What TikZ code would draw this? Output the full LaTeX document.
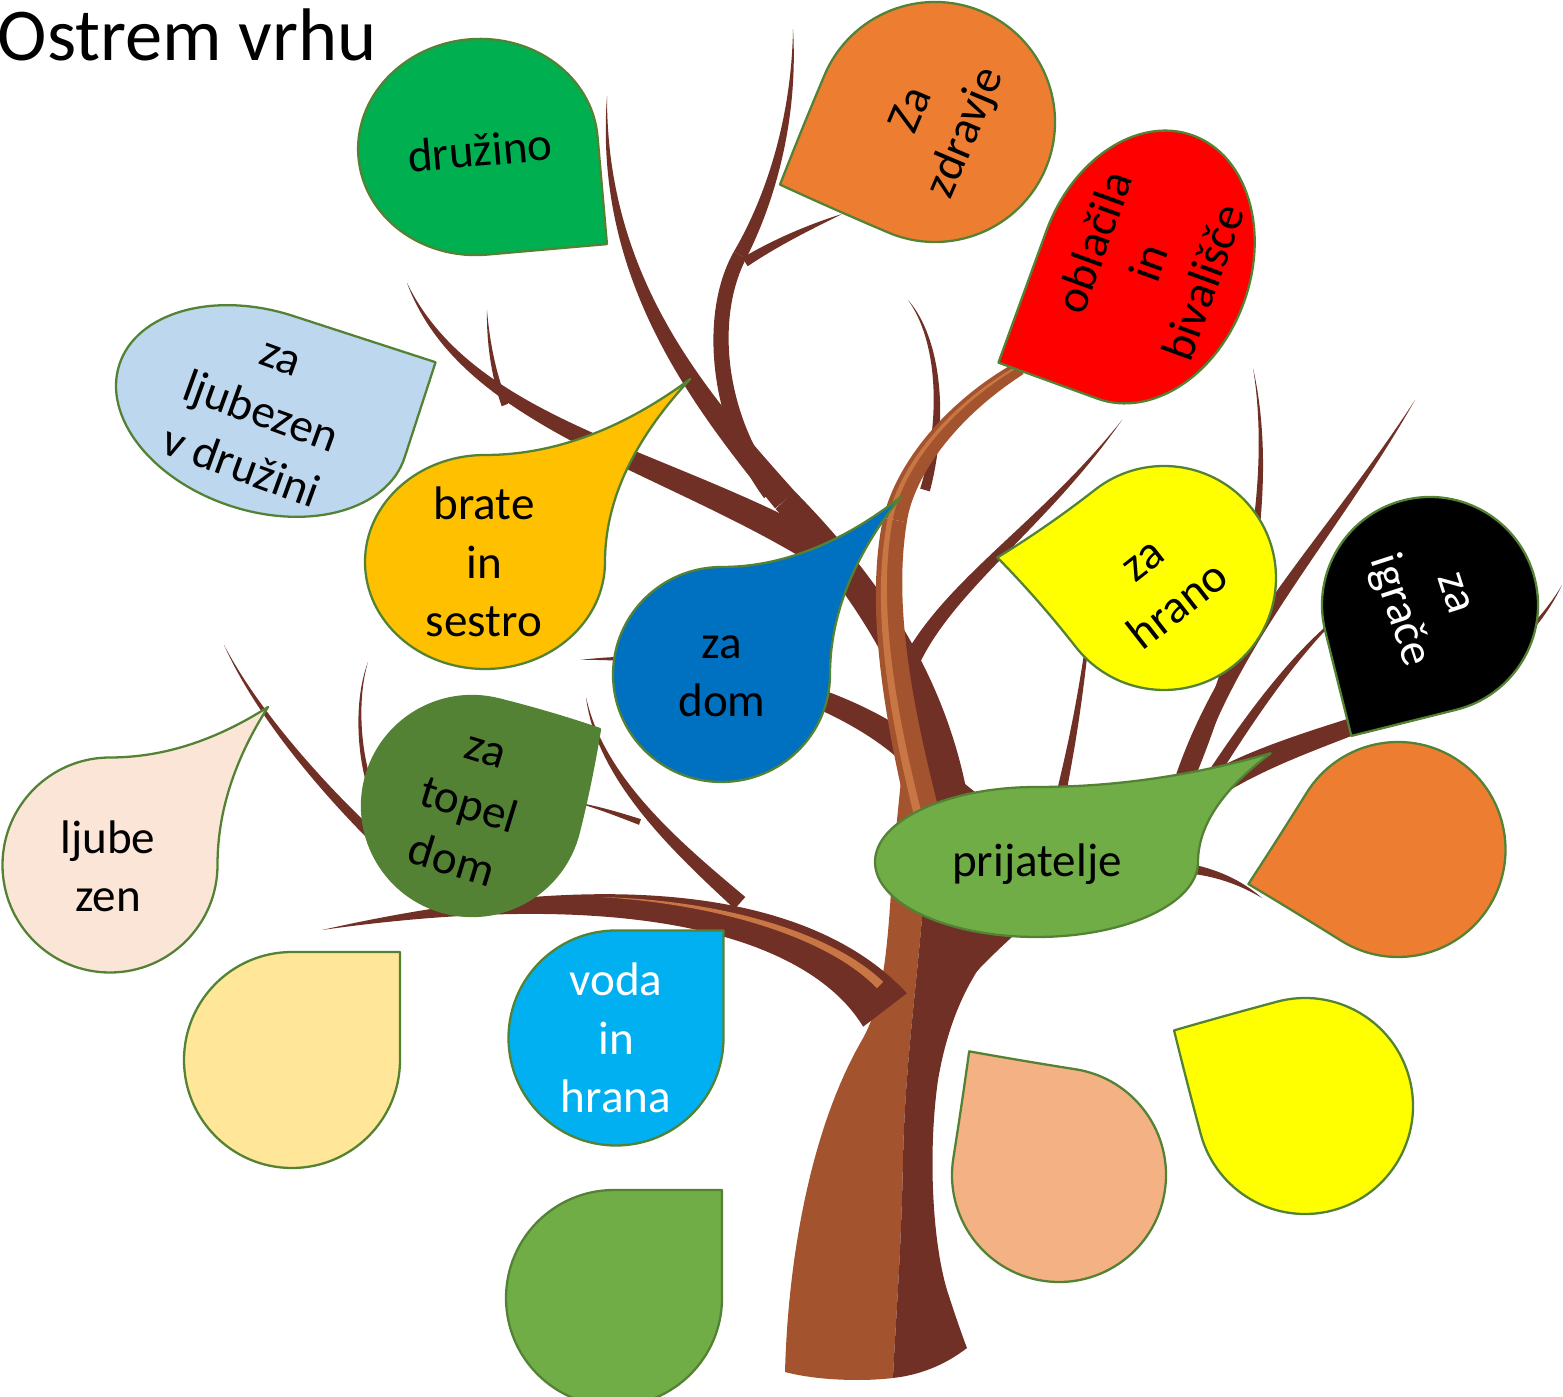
\documentclass[tikz,border=0pt]{standalone}
\usepackage{fontspec}
\setmainfont{Carlito}
\usetikzlibrary{calc}
\definecolor{bark}{RGB}{112,48,38}
\definecolor{barkmid}{RGB}{163,84,46}
\definecolor{barklight}{RGB}{200,118,68}
\definecolor{leafedge}{RGB}{84,130,53}
\definecolor{cDruzino}{RGB}{0,176,80}
\definecolor{cOrange}{RGB}{237,125,49}
\definecolor{cRed}{RGB}{255,0,0}
\definecolor{cIce}{RGB}{189,215,238}
\definecolor{cGold}{RGB}{255,192,0}
\definecolor{cBlue}{RGB}{0,112,192}
\definecolor{cYellow}{RGB}{255,255,0}
\definecolor{cBlush}{RGB}{251,229,214}
\definecolor{cMoss}{RGB}{84,130,53}
\definecolor{cGrass}{RGB}{112,173,71}
\definecolor{cCream}{RGB}{255,230,153}
\definecolor{cSky}{RGB}{0,176,240}
\definecolor{cPeach}{RGB}{244,177,131}
\tikzset{
  leafline/.style={draw=leafedge,line width=0.65pt,line join=round},
  leaftext/.style={font=\fontsize{13.4}{16.6}\selectfont,align=center,inner sep=0pt},
}
% teardrop: [transform]{fill}{centre}{rx}{ry}{tip factor}
\newcommand{\leaf}[6][]{%
  \filldraw[leafline,fill=#2,shift={(#3)},#1]
    (0,#5) arc[start angle=90,end angle=360,x radius=#4,y radius=#5]
    .. controls (#4,{#6*#5/3}) and ({(#6+2)*#4/3},{2*#6*#5/3}) .. ({#6*#4},{#6*#5})
    .. controls ({2*#6*#4/3},{(#6+2)*#5/3}) and ({#6*#4/3},#5) .. (0,#5) -- cycle;}
% tapered branch: [colour]{width start}{width end}{p0}{c1}{c2}{p3}
\newcommand{\limb}[7][bark]{%
  \pgfmathsetmacro\limbA{0.05*#2}%
  \pgfmathsetmacro\limbB{0.0125*(3*#2+#3)}%
  \pgfmathsetmacro\limbC{0.025*(#2+#3)}%
  \pgfmathsetmacro\limbD{0.05*#3}%
  \fill[#1] ($(#4)!\limbA mm!90:(#5)$) .. controls ($(#5)!\limbB mm!90:(#6)$) and ($(#6)!\limbC mm!90:(#7)$) .. ($(#7)!\limbD mm!-90:(#6)$)
    -- ($(#7)!\limbD mm!90:(#6)$) .. controls ($(#6)!\limbC mm!-90:(#7)$) and ($(#5)!\limbB mm!-90:(#6)$) .. ($(#4)!\limbA mm!-90:(#5)$) -- cycle;}
\begin{document}
\begin{tikzpicture}[x=0.1mm,y=0.1mm]
	\useasboundingbox (0,0) rectangle (1563,-1397);
	% trunk
	\fill[barkmid] (785,-1372) .. controls (788,-1260) and (810,-1130) .. (862,-1040) .. controls (885,-1000) and (888,-940) .. (893,-860) -- (903,-760) -- (935,-760) -- (925,-880) .. controls (918,-980) and (905,-1060) .. (903,-1160) .. controls (901,-1260) and (895,-1330) .. (893,-1378) .. controls (860,-1382) and (815,-1380) .. (785,-1372) -- cycle;
	\fill[bark] (893,-1378) .. controls (895,-1330) and (901,-1260) .. (903,-1160) .. controls (905,-1060) and (918,-980) .. (925,-880) -- (935,-760) -- (985,-800) -- (1060,-860) -- (1003,-937) .. controls (975,-968) and (950,-1010) .. (938,-1080) .. controls (928,-1150) and (932,-1240) .. (947,-1290) .. controls (955,-1315) and (962,-1335) .. (967,-1348) .. controls (945,-1365) and (920,-1375) .. (893,-1378) -- cycle;
	\limb{40}{22}{960,-960}{1010,-910}{1100,-840}{1190,-790}
	% left side
	\limb{55}{0}{885,-1010}{820,-925}{650,-870}{322,-930}
	\limb[barklight]{9}{0}{880,-985}{830,-935}{720,-902}{600,-897}
	\limb{16}{0}{740,-903}{680,-850}{600,-780}{586,-697}
	\limb{6}{0}{640,-822}{620,-815}{600,-808}{575,-802}
	\limb{14}{0}{440,-895}{380,-850}{270,-740}{224,-645}
	\limb{6}{0}{375,-800}{358,-760}{355,-700}{368,-662}
	\limb{30}{0}{925,-765}{870,-705}{720,-650}{580,-660}
	\limb{32}{0}{848,-568}{680,-460}{470,-430}{407,-283}
	\limb{7}{0}{505,-405}{495,-380}{488,-345}{487,-310}
	% top
	\limb{36}{26}{950,-800}{932,-690}{875,-595}{785,-500}
	\limb{26}{0}{785,-500}{700,-400}{600,-280}{607,-96}
	\limb{20}{14}{772,-492}{720,-425}{705,-320}{740,-255}
	\limb{14}{0}{740,-255}{770,-200}{795,-120}{793,-29}
	\limb{10}{0}{745,-262}{780,-240}{815,-225}{842,-214}
	\limb{10}{0}{925,-490}{945,-420}{940,-340}{908,-300}
	\limb{18}{0}{905,-675}{940,-590}{1040,-530}{1122,-420}
	\limb[barkmid]{32}{24}{925,-820}{895,-700}{880,-600}{895,-520}
	\limb[barkmid]{24}{14}{895,-520}{905,-470}{950,-410}{1020,-368}
	\limb[barklight]{8}{5}{918,-815}{889,-700}{875,-600}{890,-520}
	\limb[barklight]{5}{2}{890,-520}{900,-470}{945,-410}{1015,-368}
	% right side
	\limb{14}{0}{1180,-795}{1250,-640}{1275,-480}{1253,-368}
	\limb{20}{0}{1180,-795}{1220,-650}{1330,-540}{1415,-400}
	\limb{12}{0}{1200,-795}{1260,-700}{1300,-650}{1345,-610}
	\limb{28}{0}{1190,-800}{1310,-715}{1490,-720}{1562,-585}
	\limb{10}{2}{1060,-800}{1068,-760}{1078,-720}{1090,-620}
	\limb{10}{0}{1185,-868}{1215,-872}{1240,-882}{1262,-898}
	% leaves
	\leaf[rotate=5,yscale=-1]{cDruzino}{478,-147}{120}{108}{1.0}
	\leaf[rotate=67,xscale=-1]{cOrange}{935,-122}{120}{120}{0.985}
	\leaf[rotate=70,xscale=-1]{cRed}{1145,-267}{140}{105}{1.0}
	\leaf[rotate=-18]{cIce}{262,-411}{150}{100}{1.0}
	\leaf{cGold}{485,-562}{120}{107}{1.71}
	\leaf{cBlue}{721.5,-674.5}{108.5}{107.5}{1.65}
	\leaf[rotate=38,xscale=-1]{cYellow}{1164,-578}{112}{112}{1.06}
	\leaf[rotate=-76,yscale=-1]{black}{1430,-605}{108}{108}{1.0}
	\leaf{cBlush}{110,-865}{107.5}{107.5}{1.47}
	\leaf[rotate=-14]{cMoss}{472,-806}{110}{110}{0.96}
	\leaf{cGrass}{1036.5,-862}{161.5}{75}{1.45}
	\leaf[rotate=148]{cOrange}{1398,-849.5}{107.5}{107.5}{1.01}
	\leaf{cCream}{292,-1060}{108}{108}{1}
	\leaf{cSky}{616,-1038}{107.5}{107.5}{1}
	\leaf{cGrass}{614,-1298}{108}{108}{1}
	\leaf[rotate=81]{cPeach}{1059,-1175}{107}{107}{1.01}
	\leaf[rotate=105]{cYellow}{1305,-1106}{108}{108}{0.99}
	% texts
	\node[anchor=base west,inner sep=0pt,font=\fontsize{21.2}{25}\selectfont] (title) at (-3,-61) {Ostrem vrhu};
	\node[leaftext,rotate=5] (druzino) at (480,-150) {družino};
	\node[leaftext,rotate=67] (zdravje) at (940,-122) {Za\\zdravje};
	\node[leaftext,rotate=70] (oblacila) at (1148,-262) {oblačila\\in\\bivališče};
	\node[leaftext,rotate=-20] (ljubezen) at (260,-415) {za\\ljubezen\\v družini};
	\node[leaftext] (brate) at (484,-562) {brate\\in\\sestro};
	\node[leaftext] (dom) at (722,-676) {za\\dom};
	\node[leaftext,rotate=38] (hrano) at (1162,-585) {za\\hrano};
	\node[leaftext,rotate=-72,text=white] (igrace) at (1423,-603) {za\\igrače};
	\node[leaftext] (ljubezen2) at (108,-866) {ljube\\zen};
	\node[leaftext,rotate=-17] (topel) at (468,-808) {za\\topel\\dom};
	\node[leaftext] (prijatelje) at (1037,-864) {prijatelje};
	\node[leaftext,text=white] (voda) at (616,-1038) {voda\\in\\hrana};
\end{tikzpicture}
\end{document}
